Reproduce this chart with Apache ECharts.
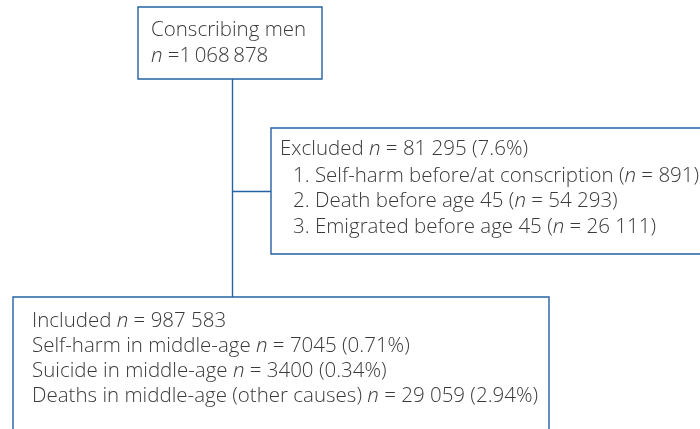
<!DOCTYPE html>
<html>
<head>
<meta charset="utf-8">
<script src="https://cdn.jsdelivr.net/npm/echarts@6/dist/echarts.min.js"></script>
<style>
  html, body { margin: 0; padding: 0; background: #fff; }
  #chart { width: 700px; height: 429px; }
</style>
</head>
<body>
<div id="chart"></div>
<script>
  // 数据
  const conscripted = 1068878;
  const excludedTotal = 81295;
  const excludedPct = 7.6;
  const excludedReasons = ['Self-harm before/at conscription', 'Death before age 45', 'Emigrated before age 45'];
  const excludedCounts = [891, 54293, 26111];
  const includedTotal = 987583;
  const outcomes = ['Self-harm in middle-age', 'Suicide in middle-age', 'Deaths in middle-age (other causes)'];
  const outcomeCounts = [7045, 3400, 29059];
  const outcomePct = [0.71, 0.34, 2.94];

  // 千位分隔（4位数不分）
  function fmt(v, sep) {
    const s = String(v);
    if (s.length < 5) return s;
    return s.replace(/\B(?=(\d{3})+(?!\d))/g, sep || ' ');
  }
  const n = '{i|n}';

  const boxLines = [
    ['Conscribing men', n + ' =' + fmt(conscripted, '\u2009')],
    ['Excluded ' + n + ' = ' + fmt(excludedTotal) + ' (' + excludedPct + '%)'].concat(
      excludedReasons.map((r, i) => (i + 1) + '. ' + r + ' (' + n + ' = ' + fmt(excludedCounts[i]) + ')')),
    ['Included ' + n + ' = ' + fmt(includedTotal)].concat(
      outcomes.map((o, i) => o + ' ' + n + ' = ' + fmt(outcomeCounts[i]) + ' (' + outcomePct[i].toFixed(2) + '%)'))
  ];

  // 布局（坐标轴单位 = 像素）
  const boxes = [
    { rect: [138, 7, 322, 79], tx: [151, 151], ty: [30.5, 56.5] },
    { rect: [271, 128, 715, 254], tx: [280, 293, 293, 293], ty: [149, 176, 201.5, 227] },
    { rect: [13, 297, 549, 450], tx: [32, 32, 32, 32], ty: [321.5, 346.5, 371.5, 396.5] }
  ];
  const links = [
    [[232, 79], [232, 297]],
    [[232, 191], [271, 191]]
  ];

  const blue = '#2462a3';
  const textColor = '#3a3a3a';
  const fontFamily = 'Open Sans';
  const fontSize = 20.5;

  let mycharts = echarts.init(document.getElementById('chart'));
  mycharts.setOption({
    animation: false,
    grid: { left: 0, right: 0, top: 0, bottom: 0 },
    xAxis: { type: 'value', min: 0, max: 700, show: false },
    yAxis: { type: 'value', min: 0, max: 429, inverse: true, show: false },
    series: [
      {
        type: 'lines',
        coordinateSystem: 'cartesian2d',
        silent: true,
        lineStyle: { color: blue, width: 1.4, opacity: 1 },
        data: links.map(c => ({ coords: c }))
      },
      {
        type: 'custom',
        silent: true,
        clip: true,
        data: boxLines.map((_, i) => [i, i]),
        renderItem: function (params, api) {
          const b = boxes[params.dataIndex];
          const p0 = api.coord([b.rect[0], b.rect[1]]);
          const p1 = api.coord([b.rect[2], b.rect[3]]);
          const children = [{
            type: 'rect',
            shape: { x: p0[0], y: p0[1], width: p1[0] - p0[0], height: p1[1] - p0[1] },
            style: { fill: '#fff', stroke: blue, lineWidth: 1.4 }
          }];
          boxLines[params.dataIndex].forEach((line, k) => {
            const p = api.coord([b.tx[k], b.ty[k]]);
            children.push({
              type: 'text',
              style: {
                text: line,
                x: p[0],
                y: p[1],
                fill: textColor,
                fontFamily: fontFamily,
                fontSize: fontSize,
                fontWeight: 300,
                verticalAlign: 'middle',
                align: 'left',
                rich: {
                  i: { fontStyle: 'italic', fontFamily: fontFamily, fontSize: fontSize, fontWeight: 300, fill: textColor }
                }
              }
            });
          });
          return { type: 'group', children: children };
        }
      }
    ]
  });
</script>
</body>
</html>
